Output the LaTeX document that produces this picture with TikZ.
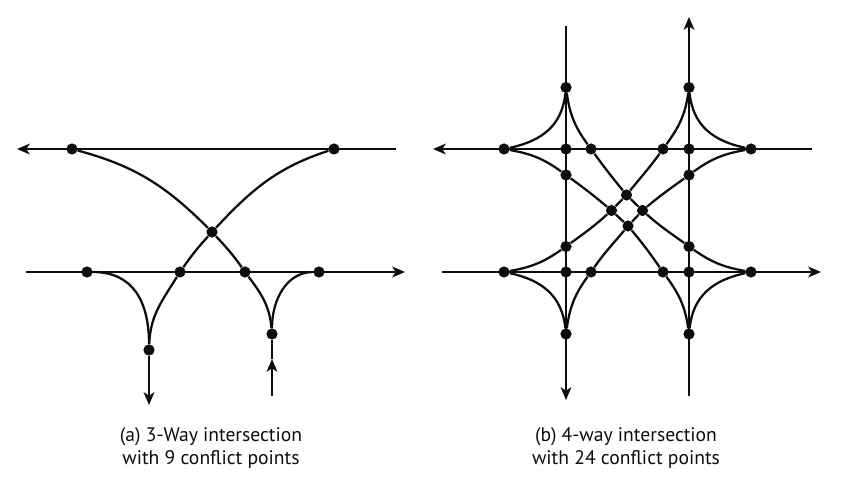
\documentclass[tikz,border=0pt]{standalone}
\usepackage{fontspec}
\setmainfont{PT Sans}
\usetikzlibrary{arrows.meta}
\tikzset{
  x=.75pt,y=.75pt,
  road/.style={line width=1.7pt,line cap=butt,black!95},
  dir/.style={road,-{Stealth[length=9.5pt,width=8pt,inset=2.5pt]}},
  cp/.style={circle,fill=black!95,inner sep=0pt,minimum size=8.4pt},
  captext/.style={align=center,font=\fontsize{14.7}{17.6}\selectfont,text=black!95}
}
\begin{document}
\begin{tikzpicture}
\useasboundingbox (0,0) rectangle (850,486);
% ---- (a) ----
\node[cp] (a) at (72,337) {};
\node[cp] (b) at (334,337) {};
\node[cp] (c) at (212,254) {};
\node[cp] (d) at (87,214) {};
\node[cp] (e) at (180,214) {};
\node[cp] (f) at (245,214) {};
\node[cp] (g) at (319,214) {};
\node[cp] (h) at (149,136) {};
\node[cp] (i) at (272,152) {};
\coordinate (a1) at (396,337); \coordinate (a2) at (17,337);
\coordinate (a3) at (26,214); \coordinate (a4) at (405,214);
\coordinate (a5) at (149,81);
\coordinate (a6) at (272,90); \coordinate (a7) at (272,127);
\draw[dir] (a1) -- (a2);
\draw[dir] (a3) -- (a4);
\draw[dir] (h) -- (a5);
\draw[dir] (a6) -- (a7);
\draw[road] (a7) -- (i);
\draw[road] (a) to[out=-15,in=135] (c) to[out=-47,in=125] (f) to[out=-53,in=95] (i);
\draw[road] (b) to[out=198,in=47] (c) to[out=228,in=55] (e) to[out=238,in=88] (h);
\draw[road] (d) .. controls +(45,0) and +(0,50) .. (h);
\draw[road] (g) .. controls +(-32,0) and +(0,35) .. (i);
% ---- (b) ----
\foreach \n/\x/\y in {t1/566/398.5,t2/689/398.5,
  r1/504/337,r2/566/337,r3/591/337,r4/663/337,r5/689/337,r6/751/337,
  u1/566/311,u2/689/311,
  mt/626.5/291,ml/611.5/275.5,mr/642.5/275.5,mb/628/260,
  v1/566/239.5,v2/689/239.5,
  s1/504/214,s2/566/214,s3/591/214,s4/663/214,s5/689/214,s6/751/214,
  b1/566/152,b2/689/152}
  \node[cp] (\n) at (\x,\y) {};
\coordinate (w1) at (812,337); \coordinate (w2) at (433,337);
\coordinate (w3) at (442,214); \coordinate (w4) at (821,214);
\coordinate (w5) at (566,460); \coordinate (w6) at (566,86);
\coordinate (w7) at (689,90); \coordinate (w8) at (689,469);
\draw[dir] (w1) -- (w2);
\draw[dir] (w3) -- (w4);
\draw[dir] (w5) -- (w6);
\draw[dir] (w7) -- (w8);
\draw[road] (t1) to[out=-82,in=126] (r3) to[out=-54,in=129] (mt) -- (mr) to[out=-42,in=144] (v2) to[out=-35,in=170] (s6);
\draw[road] (r1) to[out=-10,in=144] (u1) to[out=-36,in=140] (ml) -- (mb) to[out=-50,in=125] (s4) to[out=-54,in=98] (b2);
\draw[road] (t2) to[out=262,in=54] (r4) to[out=234,in=51] (mt) -- (ml) to[out=222,in=36] (v1) to[out=215,in=10] (s1);
\draw[road] (r6) to[out=190,in=36] (u2) to[out=216,in=40] (mr) -- (mb) to[out=230,in=55] (s3) to[out=234,in=82] (b1);
\draw[road] (t1) .. controls +(-4,-38) and +(38,8) .. (r1);
\draw[road] (t2) .. controls +(4,-38) and +(-38,8) .. (r6);
\draw[road] (b1) .. controls +(-4,38) and +(38,-8) .. (s1);
\draw[road] (b2) .. controls +(4,38) and +(-38,-8) .. (s6);
% ---- captions ----
\node[captext] (capa) at (211,38) {(a) 3-Way intersection\\with 9 conflict points};
\node[captext] (capb) at (626,38) {(b) 4-way intersection\\with 24 conflict points};
\end{tikzpicture}
\end{document}
